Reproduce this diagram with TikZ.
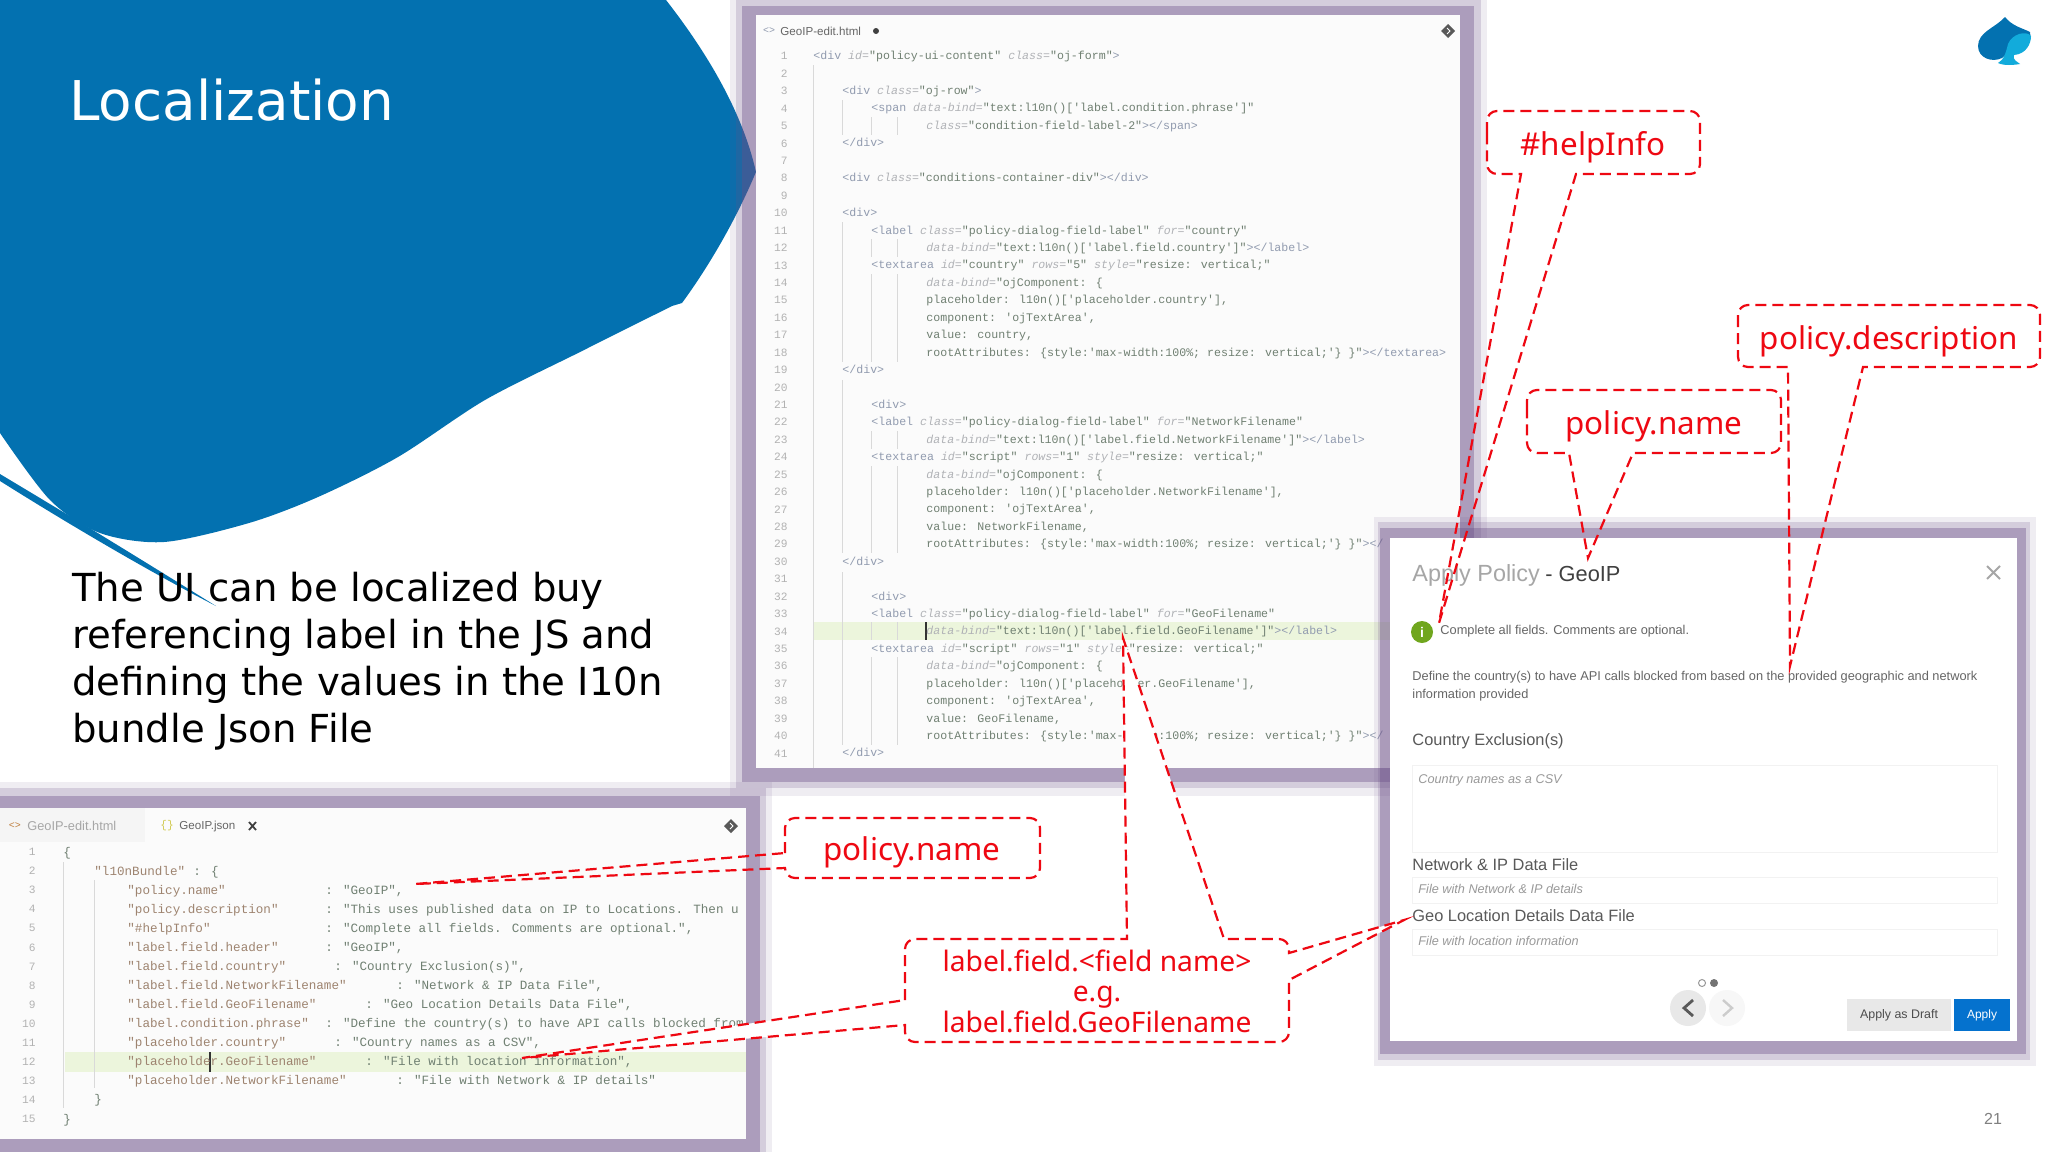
\documentclass[tikz,border=0pt]{standalone}
\usepackage{fontspec}
\setmainfont{DejaVu Sans}
\newfontfamily\codefont{Liberation Mono}
\newfontfamily\uifont{Liberation Sans}
\newfontfamily\callfont{Noto Sans}
\usetikzlibrary{calc}
\definecolor{blob}{RGB}{3, 113, 176}
\definecolor{logolight}{RGB}{18, 171, 219}
\definecolor{framepurple}{RGB}{107, 79, 135}
\definecolor{codebg}{RGB}{251, 251, 251}
\definecolor{hilite}{RGB}{236, 245, 220}
\definecolor{ctagc}{RGB}{145, 155, 175}
\definecolor{cattrc}{RGB}{176, 178, 182}
\definecolor{cstrc}{RGB}{112, 128, 114}
\definecolor{ckeyc}{RGB}{158, 132, 112}
\definecolor{calloutred}{RGB}{238, 8, 18}
\definecolor{applyblue}{RGB}{5, 114, 206}
\definecolor{infogreen}{RGB}{112, 166, 30}
\newcommand{\ct}[1]{\textcolor{ctagc}{#1}}
\newcommand{\ca}[1]{\textcolor{cattrc}{\itshape #1}}
\newcommand{\cv}[1]{\textcolor{cstrc}{#1}}
\newcommand{\ck}[1]{\textcolor{ckeyc}{#1}}
\newcommand{\htmlline}[3]{%
  \node[numtext] (hn#1) at (788,{56.2+17.43*(#1-1)}) {#1};
  \node[htmltext] (hl#1) at (#2,{59.7+17.43*(#1-1)}) {#3};}
\newcommand{\jsonline}[5]{%
  \node[numtext] (jn#1) at (36,{852+19.07*(#1-1)}) {#1};
  \node[jsontext] (jk#1) at (#2,{856+19.07*(#1-1)}) {#3};
  \node[jsontext] (jv#1) at (#4,{856+19.07*(#1-1)}) {#5};}
\tikzset{
  numtext/.style={anchor=east, inner sep=0pt, text=gray!60, font=\codefont\fontsize{5.6}{7}\selectfont},
  htmltext/.style={anchor=base west, inner sep=0pt, text=cstrc, font=\codefont\fontsize{5.8}{7}\selectfont},
  jsontext/.style={anchor=base west, inner sep=0pt, text=cstrc, font=\codefont\fontsize{6.3}{8}\selectfont},
  guide/.style={draw=gray!30, line width=0.4pt},
  dlgtext/.style={anchor=west, inner sep=0pt, text=black!65, font=\uifont\fontsize{8.2}{10}\selectfont},
  dlgsmall/.style={anchor=west, inner sep=0pt, text=black!60, font=\uifont\fontsize{6.4}{8}\selectfont},
  dlghint/.style={anchor=west, inner sep=0pt, text=black!40, font=\uifont\itshape\fontsize{6.35}{7}\selectfont},
  dlgfield/.style={draw=black!5, fill=white, line width=0.5pt},
  calloutline/.style={draw=calloutred, line width=1.1pt, dash pattern=on 5.5pt off 3pt},
  callouttext/.style={inner sep=0pt, text=calloutred, align=center, font=\callfont\fontsize{15.7}{15.5}\selectfont},
  diamondicon/.style={fill=black!65},
}
\begin{document}
\begin{tikzpicture}[x=0.5pt, y=-0.5pt, line cap=butt]
    \useasboundingbox (0,0) rectangle (2048,1152);
    \fill[white] (0,0) rectangle (2048,1152);

    % blue shape behind the title
    \fill[blob] plot[smooth] coordinates {(672,306) (580,352) (485,400) (398,457) (318,497) (249,523) (164,542) (100,533) (50,500) (0,433)}
        -- (0,0) -- (666,0) .. controls (705,50) and (742,110) .. (756,172) .. controls (738,215) and (712,262) .. (682,303) -- cycle;
    \fill[blob] (0,474) .. controls (60,510) and (110,540) .. (216,606) .. controls (150,572) and (70,525) .. (0,481) -- cycle;
    \node[anchor=base west, inner sep=0pt, text=white, font=\fontsize{27.4}{32}\selectfont] (title) at (69,120) {Localization};
    \node[anchor=north west, inner sep=0pt, text=black, align=left, font=\fontsize{19.3}{23.5}\selectfont] (bodytext) at (72,572)
        {The UI can be localized buy\\referencing label in the JS and\\defining the values in the I10n\\bundle Json File};

    % html window
    \fill[framepurple, opacity=0.1] (730,0) rectangle (1487,796);
    \fill[framepurple, opacity=0.2] (736,0) rectangle (1481,788);
    \fill[framepurple, opacity=0.375] (742,6) rectangle (1474,782);
    \fill[codebg] (756,15) rectangle (1460,768);
    \fill[hilite] (813,622) rectangle (1400,640);
    \draw[guide] (813,65) -- (813,768);
    \draw[guide] (842,100) -- (842,135) (842,222) -- (842,362) (842,380) -- (842,553) (842,572) -- (842,745);
    \draw[guide] (871,117) -- (871,135) (871,239) -- (871,257) (871,274) -- (871,362) (871,431) -- (871,449) (871,466) -- (871,553) (871,622) -- (871,640) (871,657) -- (871,745);
    \draw[guide] (897,117) -- (897,135) (897,239) -- (897,257) (897,274) -- (897,362) (897,431) -- (897,449) (897,466) -- (897,553) (897,622) -- (897,640) (897,657) -- (897,745);
    \draw[black!80, line width=0.6pt] (926,622) -- (926,640);
    \node[inner sep=0pt, text=ctagc, font=\codefont\fontsize{5}{6}\selectfont] (htmlicon) at (769,31) {<>};
    \node[anchor=west, inner sep=0pt, text=black!60, font=\uifont\fontsize{5.8}{7}\selectfont] (htmltab) at (780,31) {GeoIP-edit.html};
    \fill[black!75] (876,31) circle (3);
    \fill[diamondicon] (1441,31) -- (1448,24) -- (1455,31) -- (1448,38) -- cycle;
    \draw[white, line width=0.5pt] (1447,28) -- (1450,31) -- (1447,34);
    \begin{scope}
      \clip (756,15) rectangle (1460,768);
      \htmlline{1}{813}{\ct{<div} \ca{id=}\cv{"policy-ui-content"} \ca{class=}\cv{"oj-form"}\ct{>}}
      \htmlline{2}{813}{}
      \htmlline{3}{842}{\ct{<div} \ca{class=}\cv{"oj-row"}\ct{>}}
      \htmlline{4}{871}{\ct{<span} \ca{data-bind=}\cv{"text:l10n()['label.condition.phrase']"}}
      \htmlline{5}{926}{\ca{class=}\cv{"condition-field-label-2"}\ct{></span>}}
      \htmlline{6}{842}{\ct{</div>}}
      \htmlline{7}{813}{}
      \htmlline{8}{842}{\ct{<div} \ca{class=}\cv{"conditions-container-div"}\ct{></div>}}
      \htmlline{9}{813}{}
      \htmlline{10}{842}{\ct{<div>}}
      \htmlline{11}{871}{\ct{<label} \ca{class=}\cv{"policy-dialog-field-label"} \ca{for=}\cv{"country"}}
      \htmlline{12}{926}{\ca{data-bind=}\cv{"text:l10n()['label.field.country']"}\ct{></label>}}
      \htmlline{13}{871}{\ct{<textarea} \ca{id=}\cv{"country"} \ca{rows=}\cv{"5"} \ca{style=}\cv{"resize: vertical;"}}
      \htmlline{14}{926}{\ca{data-bind=}\cv{"ojComponent: \{}}
      \htmlline{15}{926}{\cv{placeholder: l10n()['placeholder.country'],}}
      \htmlline{16}{926}{\cv{component: 'ojTextArea',}}
      \htmlline{17}{926}{\cv{value: country,}}
      \htmlline{18}{926}{\cv{rootAttributes: \{style:'max-width:100\%; resize: vertical;'\} \}"}\ct{></textarea>}}
      \htmlline{19}{842}{\ct{</div>}}
      \htmlline{20}{813}{}
      \htmlline{21}{871}{\ct{<div>}}
      \htmlline{22}{871}{\ct{<label} \ca{class=}\cv{"policy-dialog-field-label"} \ca{for=}\cv{"NetworkFilename"}}
      \htmlline{23}{926}{\ca{data-bind=}\cv{"text:l10n()['label.field.NetworkFilename']"}\ct{></label>}}
      \htmlline{24}{871}{\ct{<textarea} \ca{id=}\cv{"script"} \ca{rows=}\cv{"1"} \ca{style=}\cv{"resize: vertical;"}}
      \htmlline{25}{926}{\ca{data-bind=}\cv{"ojComponent: \{}}
      \htmlline{26}{926}{\cv{placeholder: l10n()['placeholder.NetworkFilename'],}}
      \htmlline{27}{926}{\cv{component: 'ojTextArea',}}
      \htmlline{28}{926}{\cv{value: NetworkFilename,}}
      \htmlline{29}{926}{\cv{rootAttributes: \{style:'max-width:100\%; resize: vertical;'\} \}"}\ct{></}}
      \htmlline{30}{842}{\ct{</div>}}
      \htmlline{31}{813}{}
      \htmlline{32}{871}{\ct{<div>}}
      \htmlline{33}{871}{\ct{<label} \ca{class=}\cv{"policy-dialog-field-label"} \ca{for=}\cv{"GeoFilename"}}
      \htmlline{34}{926}{\ca{data-bind=}\cv{"text:l10n()['label.field.GeoFilename']"}\ct{></label>}}
      \htmlline{35}{871}{\ct{<textarea} \ca{id=}\cv{"script"} \ca{rows=}\cv{"1"} \ca{style=}\cv{"resize: vertical;"}}
      \htmlline{36}{926}{\ca{data-bind=}\cv{"ojComponent: \{}}
      \htmlline{37}{926}{\cv{placeholder: l10n()['placeholder.GeoFilename'],}}
      \htmlline{38}{926}{\cv{component: 'ojTextArea',}}
      \htmlline{39}{926}{\cv{value: GeoFilename,}}
      \htmlline{40}{926}{\cv{rootAttributes: \{style:'max-width:100\%; resize: vertical;'\} \}"}\ct{></}}
      \htmlline{41}{842}{\ct{</div>}}
    \end{scope}

    % json window
    \fill[framepurple, opacity=0.1] (0,782) rectangle (772,1152);
    \fill[framepurple, opacity=0.2] (0,788) rectangle (766,1152);
    \fill[framepurple, opacity=0.375] (0,796) rectangle (760,1152);
    \fill[codebg] (0,808) rectangle (746,1139);
    \fill[black!4] (0,808) rectangle (145,842);
    \fill[hilite] (65,1052) rectangle (746,1072);
    \draw[guide] (63,862) -- (63,1108);
    \draw[guide] (94,880) -- (94,1088);
    \draw[black!80, line width=0.6pt] (210,1052) -- (210,1072);
    \node[inner sep=0pt, text=orange!50!gray, font=\codefont\fontsize{5}{6}\selectfont] (oldicon) at (15,826) {<>};
    \node[anchor=west, inner sep=0pt, text=black!35, font=\uifont\fontsize{6.4}{7}\selectfont] (oldtab) at (27,826) {GeoIP-edit.html};
    \node[inner sep=0pt, text=yellow!60!gray, font=\codefont\fontsize{5.6}{7}\selectfont] (jsonicon) at (167,826) {\{\}};
    \node[anchor=west, inner sep=0pt, text=black!60, font=\uifont\fontsize{5.8}{7}\selectfont] (jsontab) at (179,826) {GeoIP.json};
    \draw[black!75, line width=0.9pt] (249,822) -- (256,830) (256,822) -- (249,830);
    \fill[diamondicon] (724,826) -- (731,819) -- (738,826) -- (731,833) -- cycle;
    \draw[white, line width=0.5pt] (730,823) -- (733,826) -- (730,829);
    \begin{scope}
      \clip (0,808) rectangle (746,1139);
      \jsonline{1}{63}{\cv{\{}}{63}{}
      \jsonline{2}{94}{\ck{"l10nBundle"}}{193}{\cv{: \{}}
      \jsonline{3}{127}{\ck{"policy.name"}}{325}{\cv{: "GeoIP",}}
      \jsonline{4}{127}{\ck{"policy.description"}}{325}{\cv{: "This uses published data on IP to Locations. Then u}}
      \jsonline{5}{127}{\ck{"\#helpInfo"}}{325}{\cv{: "Complete all fields. Comments are optional.",}}
      \jsonline{6}{127}{\ck{"label.field.header"}}{325}{\cv{: "GeoIP",}}
      \jsonline{7}{127}{\ck{"label.field.country"}}{334}{\cv{: "Country Exclusion(s)",}}
      \jsonline{8}{127}{\ck{"label.field.NetworkFilename"}}{396}{\cv{: "Network \& IP Data File",}}
      \jsonline{9}{127}{\ck{"label.field.GeoFilename"}}{365}{\cv{: "Geo Location Details Data File",}}
      \jsonline{10}{127}{\ck{"label.condition.phrase"}}{325}{\cv{: "Define the country(s) to have API calls blocked from}}
      \jsonline{11}{127}{\ck{"placeholder.country"}}{334}{\cv{: "Country names as a CSV",}}
      \jsonline{12}{127}{\ck{"placeholder.GeoFilename"}}{365}{\cv{: "File with location information",}}
      \jsonline{13}{127}{\ck{"placeholder.NetworkFilename"}}{396}{\cv{: "File with Network \& IP details"}}
      \jsonline{14}{94}{\cv{\}}}{94}{}
      \jsonline{15}{63}{\cv{\}}}{63}{}
    \end{scope}

    % dialog window
    \fill[framepurple, opacity=0.1] (1374,517) rectangle (2036,1066);
    \fill[framepurple, opacity=0.2] (1378,522) rectangle (2030,1060);
    \fill[framepurple, opacity=0.375] (1380,528) rectangle (2026,1054);
    \fill[white] (1390,538) rectangle (2017,1041);
    \node[anchor=west, inner sep=0pt, text=black!35, font=\uifont\fontsize{11.7}{14}\selectfont] (dlgtitle) at (1412,575) {Apply Policy};
    \node[anchor=west, inner sep=0pt, text=black!75, font=\uifont\fontsize{10.9}{14}\selectfont] (dlggeoip) at (1545,574) {- GeoIP};
    \draw[black!35, line width=1pt] (1987,566) -- (2000,579) (2000,566) -- (1987,579);
    \node[circle, fill=infogreen, text=white, inner sep=0pt, minimum size=11pt, font=\uifont\bfseries\fontsize{7}{8}\selectfont] (infoicon) at (1422,632) {i};
    \node[dlgsmall] (helpline) at (1440,631) {Complete all fields. Comments are optional.};
    \node[dlgsmall] (descline1) at (1412,677) {Define the country(s) to have API calls blocked from based on the provided geographic and network};
    \node[dlgsmall] (descline2) at (1412,695) {information provided};
    \node[dlgtext] (countrylabel) at (1412,741) {Country Exclusion(s)};
    \draw[dlgfield] (1412,765) rectangle (1997,852);
    \node[dlghint] (countryhint) at (1418,780) {Country names as a CSV};
    \node[dlgtext] (networklabel) at (1412,865) {Network \& IP Data File};
    \draw[dlgfield] (1412,877) rectangle (1997,903);
    \node[dlghint] (networkhint) at (1418,889) {File with Network \& IP details};
    \node[dlgtext] (geolabel) at (1412,916) {Geo Location Details Data File};
    \draw[dlgfield] (1412,929) rectangle (1997,955);
    \node[dlghint] (geohint) at (1418,941) {File with location information};
    \draw[black!40, line width=0.5pt] (1702,983) circle (3.5);
    \fill[black!55] (1714,983) circle (4);
    \fill[black!9] (1688,1008) circle (18);
    \fill[black!3] (1727,1008) circle (18);
    \draw[black!65, line width=1.4pt] (1693,1000) -- (1684,1008) -- (1693,1016);
    \draw[black!20, line width=1.2pt] (1723,1000) -- (1732,1008) -- (1723,1016);
    \node[fill=black!9, text=black!70, minimum width=52pt, minimum height=16pt, inner sep=0pt, font=\uifont\fontsize{6.2}{8}\selectfont] (draftbtn) at (1899,1015) {Apply as Draft};
    \node[fill=applyblue, text=white, minimum width=28pt, minimum height=16pt, inner sep=0pt, font=\uifont\fontsize{6}{8}\selectfont] (applybtn) at (1982,1015) {Apply};

    % page number and logo
    \node[inner sep=0pt, text=black!50, font=\uifont\fontsize{8}{10}\selectfont] (pagenum) at (1993,1119) {21};
    \fill[blob] (2005,17) .. controls (1995,28) and (1978,32) .. (1978,46) .. controls (1978,58) and (1992,63) .. (2002,58) .. controls (2008,52) and (2018,50) .. (2024,46) .. controls (2030,42) and (2031,36) .. (2030,32) .. controls (2022,28) and (2012,26) .. cycle;
    \fill[logolight] (2031,36) .. controls (2031,44) and (2026,54) .. (2014,55) .. controls (2012,60) and (2018,62) .. (2020,64) .. controls (2014,65) and (2004,66) .. (1998,63) .. controls (2004,60) and (2006,52) .. (2008,44) .. controls (2012,34) and (2026,30) .. cycle;

    % callouts
    \draw[calloutline, rounded corners=5pt] (1487,143) -- (1487,111) -- (1700,111) -- (1700,174) [sharp corners] -- (1576,174) -- (1439,623) -- (1521,174) [rounded corners=5pt] -- (1487,174) -- cycle;
    \draw[calloutline, rounded corners=5pt] (1738,336) -- (1738,305) -- (2040,305) -- (2040,367) [sharp corners] -- (1863,367) -- (1790,666) -- (1788,367) [rounded corners=5pt] -- (1738,367) -- cycle;
    \draw[calloutline, rounded corners=5pt] (1527,420) -- (1527,390) -- (1781,390) -- (1781,453) [sharp corners] -- (1633,453) -- (1588,558) -- (1569,453) [rounded corners=5pt] -- (1527,453) -- cycle;
    \draw[calloutline, rounded corners=5pt] (785,853) -- (785,818) -- (1040,818) -- (1040,878) -- (785,878) [sharp corners] -- (785,868) -- (415,884) -- cycle;
    \draw[calloutline, fill=white, rounded corners=5pt] (905,1000) -- (905,939) [sharp corners] -- (1127,939) -- (1123,638) -- (1224,939) [rounded corners=5pt] -- (1289,939) [sharp corners] -- (1289,953) -- (1404,920) -- (1289,980) [rounded corners=5pt] -- (1289,1042) -- (905,1042) [sharp corners] -- (905,1025) -- (522,1058) -- cycle;
    \node[callouttext] (helpinfo) at (1593,147) {\#helpInfo};
    \node[callouttext] (policydesc) at (1889,341) {policy.description};
    \node[callouttext] (policyname) at (1654,426) {policy.name};
    \node[callouttext] (policynamejson) at (912,852) {policy.name};
    \node[callouttext, font=\callfont\fontsize{14.1}{15.3}\selectfont] (fieldlabel) at (1097,991) {label.field.<field name>\\e.g.\\label.field.GeoFilename};

\end{tikzpicture}
\end{document}
